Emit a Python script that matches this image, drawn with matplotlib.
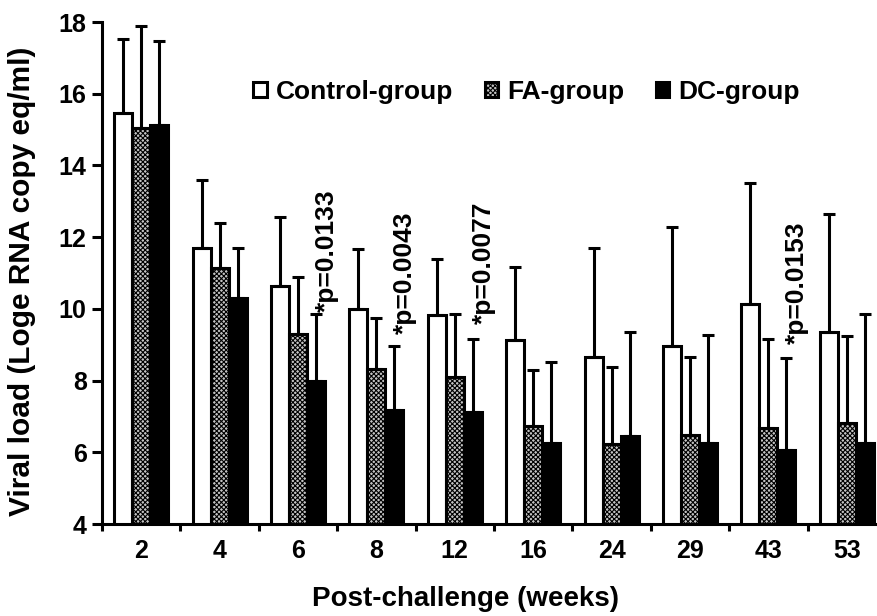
import numpy as np
import matplotlib
matplotlib.use("Agg")
import matplotlib.pyplot as plt

# Values
weeks = ["2", "4", "6", "8", "12", "16", "24", "29", "43", "53"]
control = [15.46, 11.70, 10.64, 10.00, 9.83, 9.13, 8.66, 8.96, 10.14, 9.36]
control_err = [2.07, 1.90, 1.93, 1.67, 1.56, 2.04, 3.05, 3.32, 3.36, 3.29]
fa = [15.04, 11.14, 9.30, 8.32, 8.10, 6.73, 6.23, 6.48, 6.68, 6.82]
fa_err = [2.86, 1.26, 1.59, 1.42, 1.76, 1.57, 2.15, 2.18, 2.48, 2.42]
dc = [15.13, 10.30, 7.99, 7.18, 7.12, 6.26, 6.45, 6.26, 6.05, 6.25]
dc_err = [2.34, 1.40, 1.87, 1.78, 2.04, 2.26, 2.91, 3.01, 2.58, 3.61]

# p-value annotations: (group index, text, y position)
p_groups = [2, 3, 4, 8]
p_labels = ["*p=0.0133", "*p=0.0043", "*p=0.0077", "*p=0.0153"]
p_y = [9.9, 9.3, 9.57, 9.02]

plt.rcParams["font.family"] = ["Liberation Sans", "DejaVu Sans"]
plt.rcParams["hatch.linewidth"] = 0.8

fig = plt.figure(figsize=(8.77, 6.16), dpi=100)
ax = fig.add_axes([102 / 877, 92 / 616, 784 / 877, 502 / 616])

x = np.arange(len(weeks))
w = 0.23
lw = 2.2
series = [
    (control, control_err, "white", None, "Control-group"),
    (fa, fa_err, "#c4c4c4", "xxxxxxx", "FA-group"),
    (dc, dc_err, "black", None, "DC-group"),
]
for k, (vals, err, fc, hatch, label) in enumerate(series):
    pos = x + (k - 1) * w
    ax.bar(pos, vals, width=w, color=fc, edgecolor="black", linewidth=lw,
           hatch=hatch, label=label, zorder=2)
    ax.errorbar(pos, vals, yerr=[np.zeros(len(vals)), err], fmt="none",
                ecolor="black", elinewidth=lw, capsize=4.5, capthick=lw, zorder=3)

for gi, txt, yy in zip(p_groups, p_labels, p_y):
    ax.text(gi + 0.37, yy, txt, rotation=90, ha="center", va="bottom",
            fontsize=19, fontweight="bold")

ax.set_ylim(4, 18)
ax.set_xlim(-0.5, len(weeks) - 0.5)
ax.set_yticks(np.arange(4, 19, 2))
ax.set_xticks(np.arange(-0.5, len(weeks), 1))
ax.set_xticklabels([])
ax.set_xticks(x, minor=True)
ax.set_xticklabels(weeks, minor=True)
ax.tick_params(axis="x", which="major", length=5, width=lw, direction="out")
ax.tick_params(axis="x", which="minor", length=0, pad=11, labelsize=18)
ax.tick_params(axis="y", length=7, width=lw, pad=4, labelsize=18)
for t in ax.get_xticklabels(minor=True) + ax.get_yticklabels():
    t.set_fontweight("bold")

for s in ["top", "right"]:
    ax.spines[s].set_visible(False)
for s in ["left", "bottom"]:
    ax.spines[s].set_linewidth(lw)

ax.set_xlabel("Post-challenge (weeks)", fontsize=20, fontweight="bold")
ax.xaxis.set_label_coords((465 - 102) / 784, -0.124)
ax.set_ylabel("Viral load (Loge RNA copy eq/ml)", fontsize=21.5, fontweight="bold")
ax.yaxis.set_label_coords(-0.084, 0.484)

ax.legend(loc="center left", bbox_to_anchor=(0.193, 0.86), ncol=3, frameon=False,
          handlelength=0.5, handleheight=0.5, handletextpad=0.35,
          columnspacing=1.2, borderpad=0, borderaxespad=0,
          prop={"size": 19, "weight": "bold"})

fig.savefig("out.png", dpi=100)
